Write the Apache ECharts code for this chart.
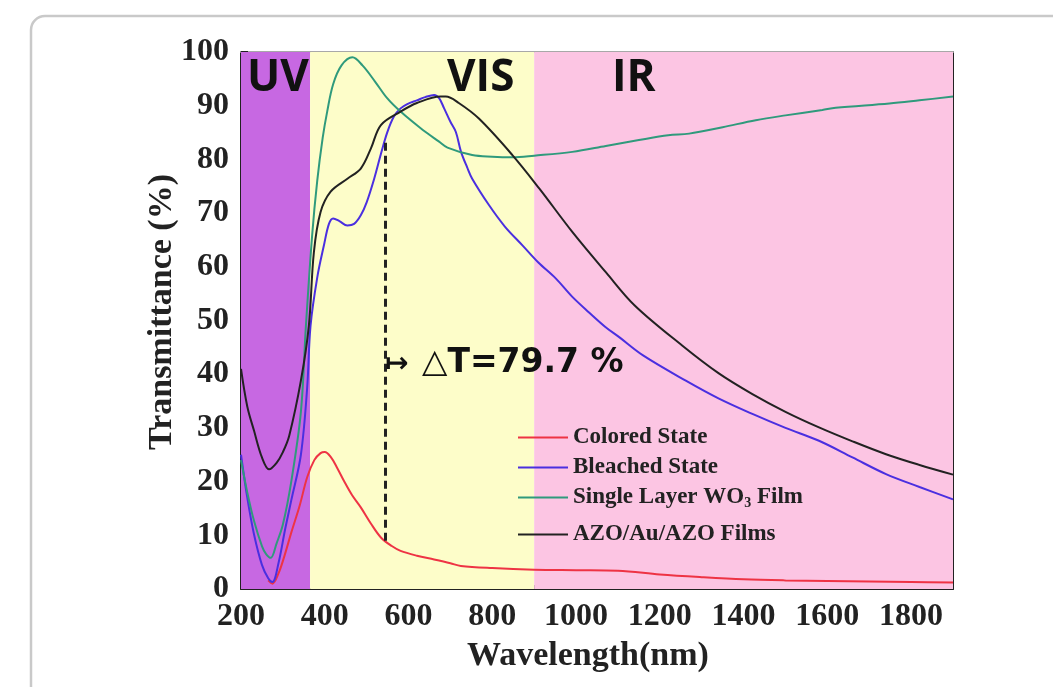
<!DOCTYPE html>
<html>
<head>
<meta charset="utf-8">
<script src="https://cdn.jsdelivr.net/npm/echarts@6/dist/echarts.min.js"></script>
<style>
  html, body { margin: 0; padding: 0; background: #fff; }
  #chart { width: 1053px; height: 687px; }
</style>
</head>
<body>
<div id="chart"></div>
<script>
// wavelength (nm), transmittance (%)
const colored = [[265,1.6],[275,1],[290,3],[305,6.5],[320,10.5],[340,15.5],[358,20.8],[375,24],[390,25.3],[400,25.5],[415,24.5],[430,22.5],[446,20.1],[465,17.5],[486,15.2],[510,12.2],[534,9.6],[560,8],[581,7.1],[620,6.2],[661,5.5],[700,4.8],[725,4.3],[800,3.9],[900,3.6],[1000,3.5],[1100,3.4],[1200,2.7],[1300,2.2],[1400,1.8],[1500,1.6],[1600,1.5],[1700,1.4],[1800,1.3],[1900,1.2]];
const bleached = [[200,25],[215,17],[231,10.2],[250,4.5],[265,2],[275,1.3],[290,5],[305,11],[320,16.5],[343,25],[358,37.5],[366,49],[382,58],[398,64],[410,68],[420,69],[435,68.5],[454,67.7],[470,68],[486,69.6],[500,72],[518,76.4],[534,81],[549,85],[565,88],[581,89.5],[597,90.3],[620,91],[640,91.6],[661,92],[673,91.4],[685,89.5],[700,87],[713,85.1],[725,81.5],[740,78.5],[752,76.4],[792,71.5],[830,67.5],[872,64],[910,60.8],[952,57.8],[990,54.5],[1031,51.5],[1070,48.8],[1103,46.9],[1160,43.5],[1262,38.8],[1340,35.5],[1421,32.6],[1500,30],[1580,27.6],[1660,24.5],[1740,21.4],[1820,19],[1900,16.7]];
const wo3 = [[200,24],[215,18],[231,12.7],[250,8],[260,6.5],[271,5.8],[285,8.5],[300,12],[320,20],[343,33],[355,49],[370,66],[382,76],[395,84],[406,89],[420,94],[440,97.5],[466,99],[490,97.5],[520,94.5],[549,91.4],[581,88.9],[629,85.8],[673,83.3],[693,82.2],[752,80.8],[800,80.5],[848,80.4],[900,80.7],[991,81.4],[1071,82.5],[1150,83.6],[1220,84.5],[1270,84.8],[1350,86],[1429,87.3],[1500,88.2],[1588,89.2],[1620,89.6],[1748,90.4],[1820,91],[1900,91.7]];
const azo = [[200,41],[215,34],[231,29.5],[250,24.5],[267,22.3],[285,23.5],[300,25.5],[315,28.5],[343,38.8],[362,49],[374,62.7],[390,70.2],[414,74],[454,76.4],[486,78.3],[510,82],[534,86.4],[581,88.9],[620,90.5],[677,91.7],[689,91.7],[720,90.5],[768,87.6],[848,80.8],[912,74.6],[991,66.5],[1071,59],[1140,52.8],[1254,45.3],[1340,40.2],[1421,36.3],[1500,33],[1580,30.1],[1660,27.5],[1740,25.1],[1820,23.1],[1900,21.3]];
const deltaLine = [[545,9],[545,84]];

const names = ['Colored State', 'Bleached State', 'Single Layer WO3 Film', 'AZO/Au/AZO Films'];
const colors = ['#ee3344', '#4a2fe0', '#2f9a7c', '#222222'];
const bands = [[200, 365, '#c768e2'], [365, 900, '#fdfdc9'], [900, 1900, '#fcc5e3']];
const regionLabels = [['UV', 247], ['VIS', 447], ['IR', 612]];
const legendTops = [434, 464, 494, 531];

const serif = "'Liberation Serif', 'Times New Roman', serif";
const myChart = echarts.init(document.getElementById('chart'));

const graphics = [{
  type: 'rect',
  shape: { x: 31, y: 16, width: 1100, height: 800, r: 14 },
  style: { fill: 'none', stroke: '#c9c9c9', lineWidth: 2.5 },
  silent: true
}];
regionLabels.forEach(function (r) {
  graphics.push({
    type: 'text', left: r[1], top: 56, z: 10,
    style: { text: r[0], font: "bold 44px 'Open Sans', sans-serif", fill: '#111' }
  });
});
// delta T annotation
graphics.push({
  type: 'text', left: 385, top: 351, z: 10,
  style: { text: '\u21A6', font: "bold 28px 'DejaVu Sans'", fill: '#111' }
});
graphics.push({
  type: 'text', left: 422, top: 347, z: 10,
  style: { text: '\u25B3T=79.7 %', font: "bold 33px 'DejaVu Sans', sans-serif", fill: '#111' }
});
// axis titles
graphics.push({
  type: 'text', x: 162, y: 312, rotation: Math.PI / 2, z: 10,
  style: { text: 'Transmittance (%)', font: 'bold 34px ' + serif, fill: '#222', align: 'center', verticalAlign: 'middle' }
});
graphics.push({
  type: 'text', x: 588, y: 656, z: 10,
  style: { text: 'Wavelength(nm)', font: 'bold 34px ' + serif, fill: '#222', align: 'center', verticalAlign: 'middle' }
});

const legends = names.map(function (n, i) {
  return {
    data: [n],
    left: 513,
    top: legendTops[i] - 13,
    icon: 'rect',
    itemWidth: 50,
    itemHeight: 2,
    selectedMode: false,
    formatter: function (name) {
      return name === 'Single Layer WO3 Film' ? 'Single Layer WO{sub|3} Film' : name;
    },
    textStyle: {
      fontFamily: serif, fontWeight: 'bold', fontSize: 23, color: '#222',
      rich: { sub: { fontFamily: serif, fontWeight: 'bold', fontSize: 14, color: '#222', padding: [12, 0, 0, 0] } }
    }
  };
});

const curves = [colored, bleached, wo3, azo].map(function (d, i) {
  return {
    name: names[i],
    type: 'line',
    data: d,
    smooth: 0.35,
    showSymbol: false,
    symbol: 'none',
    z: 3 + i,
    lineStyle: { color: colors[i], width: 2 },
    itemStyle: { color: colors[i] }
  };
});

const tickLabel = { margin: 12, fontFamily: serif, fontWeight: 'bold', fontSize: 32, color: '#222' };

const option = {
  animation: false,
  backgroundColor: '#fff',
  graphic: graphics,
  legend: legends,
  grid: { left: 241, right: 100, top: 52, bottom: 98 },
  xAxis: [{
    type: 'value',
    min: 200, max: 1900, interval: 200,
    axisLine: { lineStyle: { color: '#222', width: 2 } },
    axisTick: { inside: true, length: 7, lineStyle: { width: 2, color: '#222' } },
    minorTick: { show: true, splitNumber: 2, length: 4, lineStyle: { width: 2, color: '#222' } },
    axisLabel: Object.assign({ formatter: function (v) { return String(v); } }, tickLabel),
    splitLine: { show: false }
  }, {
    type: 'value', position: 'top',
    min: 200, max: 1900,
    axisLine: { show: true, onZero: false, lineStyle: { color: '#a8a8a8', width: 2 } },
    axisTick: { show: false }, axisLabel: { show: false }, splitLine: { show: false }
  }],
  yAxis: [{
    type: 'value',
    min: 0, max: 100, interval: 10,
    axisLine: { show: true, lineStyle: { color: '#222', width: 2 } },
    axisTick: { inside: true, length: 7, lineStyle: { width: 2, color: '#222' } },
    minorTick: { show: true, splitNumber: 2, length: 4, lineStyle: { width: 2, color: '#222' } },
    axisLabel: tickLabel,
    splitLine: { show: false }
  }, {
    type: 'value', position: 'right',
    min: 0, max: 100,
    axisLine: { show: true, onZero: false, lineStyle: { color: '#222', width: 2 } },
    axisTick: { show: false }, axisLabel: { show: false }, splitLine: { show: false }
  }],
  series: curves.concat([{
    name: 'dT',
    type: 'line',
    data: deltaLine,
    showSymbol: false,
    symbol: 'none',
    z: 8,
    lineStyle: { color: '#222', width: 3, type: [8, 5] },
    markArea: {
      silent: true,
      z: 1,
      data: bands.map(function (b) {
        return [{ xAxis: b[0], itemStyle: { color: b[2] } }, { xAxis: b[1] }];
      })
    }
  }])
};

myChart.setOption(option);
window.addEventListener('resize', function () {
  myChart.resize();
});
</script>
</body>
</html>
